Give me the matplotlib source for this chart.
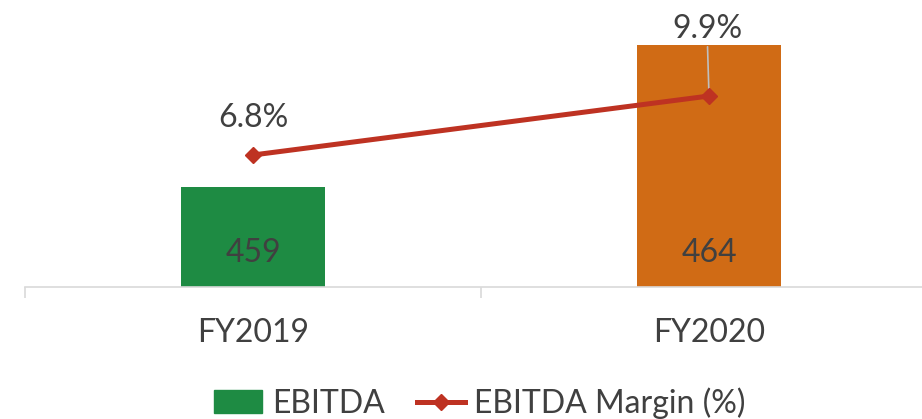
import matplotlib
matplotlib.use("Agg")
import matplotlib.pyplot as plt
from matplotlib.lines import Line2D
from matplotlib.patches import Patch

categories = ["FY2019", "FY2020"]
ebitda = [459, 464]
margin = [6.8, 9.9]
bar_colors = ["#1E8B43", "#D06B15"]
line_color = "#BE3222"
text_color = "#404040"

plt.rcParams['font.family'] = ['Lato', 'DejaVu Sans']
FS = 23

W, H = 922, 419
fig = plt.figure(figsize=(W/100, H/100), dpi=100)
left, right = 25, 937
bottom, top = 287, 45
ax = fig.add_axes([left/W, (H-bottom)/H, (right-left)/W, (bottom-top)/H])
ax2 = ax.twinx()

x = list(range(len(categories)))
ax.bar(x, ebitda, width=0.316, color=bar_colors, zorder=2)
ax.set_xlim(-0.5, 1.5)
ax.set_ylim(455.5, 464)
for xi, v in zip(x, ebitda):
    ax.text(xi, 455.5 + 1.18, f"{v}", ha="center", va="center", fontsize=FS, color=text_color, zorder=3)

ax2.plot(x, margin, color=line_color, lw=3.6, marker="D", ms=8, zorder=4)
ax2.set_ylim(-0.136, 12.58)
ax2.annotate(f"{margin[0]}%", (x[0], margin[0]), xytext=(0, 22), textcoords="offset pixels",
             ha="center", va="bottom", fontsize=FS, color=text_color)
ax2.annotate(f"{margin[1]}%", (x[1], margin[1]), xytext=(-2, 52), textcoords="offset pixels",
             ha="center", va="bottom", fontsize=FS, color=text_color,
             arrowprops=dict(arrowstyle="-", color="#BFBFBF", lw=1.2, shrinkA=0, shrinkB=0))

for a in (ax, ax2):
    for s in ["top", "right", "left"]:
        a.spines[s].set_visible(False)
    a.set_yticks([])
ax2.spines["bottom"].set_visible(False)
ax.spines["bottom"].set_color("#D9D9D9")
ax.spines["bottom"].set_linewidth(1.2)
ax.set_xticks([-0.5, 0.5, 1.5], minor=True)
ax.tick_params(axis="x", which="minor", length=8, color="#D9D9D9", width=1.2)
ax.tick_params(axis="x", which="major", length=0, pad=22)
ax.set_xticks(x)
ax.set_xticklabels(categories, fontsize=FS, color=text_color)

handles = [Patch(color=bar_colors[0], label="EBITDA"),
           Line2D([], [], color=line_color, lw=3.6, marker="D", ms=8, label="EBITDA Margin (%)")]
fig.legend(handles=handles, loc="center", bbox_to_anchor=(480/W, (H-403)/H), ncol=2,
           frameon=False, fontsize=FS, labelcolor=text_color, handlelength=1.5,
           handletextpad=0.3, columnspacing=1.0, handleheight=0.7)

fig.savefig("out.png", dpi=100)
